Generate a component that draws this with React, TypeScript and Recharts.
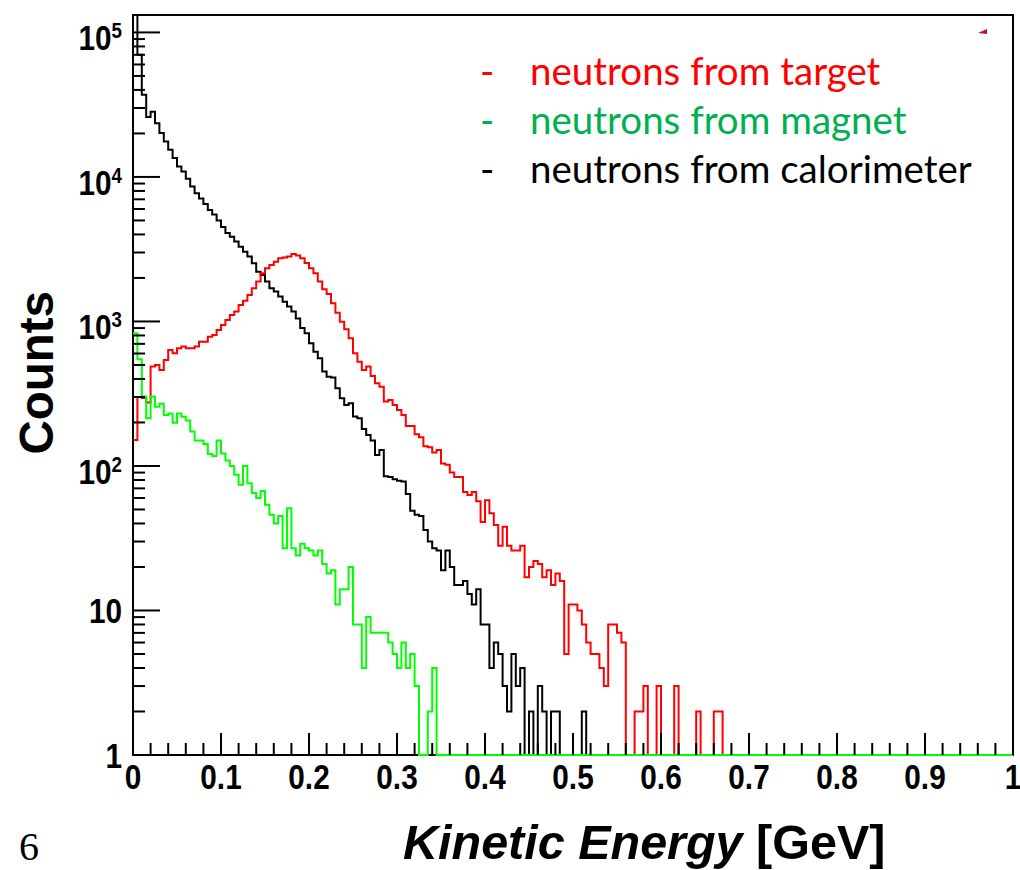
import React from 'react';
import { LineChart, Line, XAxis, YAxis, ReferenceArea, Legend } from 'recharts';

// bin contents, 0.005 GeV wide bins starting at 0 GeV; bins past the end of a list are empty
const targetCounts = [
  151, 300, 295, 275, 487, 500, 462, 542, 635, 603,
  652, 670, 652, 652, 670, 725, 725, 785, 807, 874,
  946, 1024, 1109, 1170, 1300, 1390, 1525, 1698, 1888, 2155,
  2333, 2460, 2594, 2735, 2765, 2810, 2934, 2855, 2735, 2540,
  2333, 2155, 1888, 1670, 1550, 1336, 1151, 997, 883, 765,
  602, 527, 462, 487, 420, 373, 354, 279, 286, 264,
  244, 225, 189, 189, 166, 158, 137, 135, 124, 129,
  104, 102, 90, 84, 84, 66, 63, 66, 57, 41,
  58, 47, 39, 28, 38, 28, 26, 26, 28, 17,
  20, 22, 21, 17, 19, 15, 18, 16, 5, 11,
  11, 10, 8, 6, 5, 5, 4, 3, 8, 8,
  7, 6, 0, 0, 2, 2, 3, 0, 0, 3,
  0, 0, 0, 3, 0, 0, 0, 0, 2, 0,
  0, 0, 2, 2,
];

const magnetCounts = [
  828, 547, 302, 214, 302, 257, 269, 225, 231, 199,
  231, 219, 206, 173, 150, 150, 142, 121, 117, 150,
  122, 109, 100, 87, 74, 100, 76, 65, 60, 67,
  54, 46, 40, 45, 27, 51, 27, 24, 29, 27,
  26, 24, 26, 21, 18, 19, 11, 14, 14, 20,
  8, 8, 4, 9, 7, 7, 7, 7, 6, 5,
  4, 6, 4, 5, 3, 0, 0, 2, 4,
];

const calorimeterCounts = [
  180000, 70000, 37000, 26000, 28300, 23500, 20100, 17600, 15400, 13500,
  11800, 10900, 9700, 8600, 7700, 7100, 6500, 5900, 5500, 5000,
  4500, 4100, 3860, 3570, 3290, 3040, 2810, 2530, 2210, 2100,
  1890, 1700, 1610, 1490, 1370, 1270, 1170, 1050, 900, 830,
  707, 618, 556, 450, 415, 410, 345, 294, 264, 272,
  220, 214, 180, 164, 150, 119, 129, 85, 84, 81,
  79, 78, 64, 49, 46, 45, 36, 30, 27, 26,
  19, 26, 20, 15, 15, 16, 13, 11, 14, 8,
  8, 4, 6, 5, 3, 2, 5, 3, 4, 0,
  2, 0, 3, 2, 0, 2, 2, 0, 0, 0,
  0, 0, 2,
];

const xTicks = [
  0, 0.02, 0.04, 0.06, 0.08, 0.1, 0.12, 0.14, 0.16, 0.18,
  0.2, 0.22, 0.24, 0.26, 0.28, 0.3, 0.32, 0.34, 0.36, 0.38,
  0.4, 0.42, 0.44, 0.46, 0.48, 0.5, 0.52, 0.54, 0.56, 0.58,
  0.6, 0.62, 0.64, 0.66, 0.68, 0.7, 0.72, 0.74, 0.76, 0.78,
  0.8, 0.82, 0.84, 0.86, 0.88, 0.9, 0.92, 0.94, 0.96, 0.98, 1,
];

const yTicks = [
  1, 2, 3, 4, 5, 6, 7, 8, 9,
  10, 20, 30, 40, 50, 60, 70, 80, 90,
  100, 200, 300, 400, 500, 600, 700, 800, 900,
  1000, 2000, 3000, 4000, 5000, 6000, 7000, 8000, 9000,
  10000, 20000, 30000, 40000, 50000, 60000, 70000, 80000, 90000,
  100000,
];

const series = [
  { key: 'calorimeter', name: 'neutrons from calorimeter', stroke: '#000000', text: '#000000', counts: calorimeterCounts },
  { key: 'target', name: 'neutrons from target', stroke: '#ff0000', text: '#ff0000', counts: targetCounts },
  { key: 'magnet', name: 'neutrons from magnet', stroke: '#00ff00', text: '#00b050', counts: magnetCounts },
];
const legendOrder = ['target', 'magnet', 'calorimeter'];

const BIN_WIDTH = 0.005;
const N_BINS = 200;
const Y_MIN = 1;
const Y_MAX = 132000;

// ROOT style: empty bins lie on the floor of the frame, overflow is cut at the roof
const shown = (c: number | undefined) => Math.min(Math.max(c ?? 0, Y_MIN), Y_MAX);

const rows = Array.from({ length: N_BINS + 1 }, (_, i) => {
  const bin = Math.min(i, N_BINS - 1);
  const row: Record<string, number> = { e: +(i * BIN_WIDTH).toFixed(3) };
  series.forEach((s) => {
    row[s.key] = shown(s.counts[bin]);
  });
  return row;
});

const AXIS_FONT = '"Liberation Sans", Arial, Helvetica, sans-serif';

const XTick = ({ x, y, payload }: any) => {
  const v = payload.value;
  const major = Math.abs(v * 10 - Math.round(v * 10)) < 1e-6;
  return (
    <g>
      <line x1={x} y1={y} x2={x} y2={y - (major ? 22 : 12)} stroke="#000" strokeWidth={2} />
      {major && (
        <text
          transform={`translate(${x},${y + 34}) scale(0.85,1)`}
          textAnchor="middle"
          fontFamily={AXIS_FONT}
          fontWeight="bold"
          fontSize={35}
          fill="#000"
        >
          {v === 0 ? '0' : v === 1 ? '1' : v.toFixed(1)}
        </text>
      )}
    </g>
  );
};

const YTick = ({ x, y, payload }: any) => {
  const v = payload.value;
  const exp = Math.round(Math.log10(v));
  const major = Math.abs(Math.log10(v) - exp) < 1e-9;
  return (
    <g>
      <line x1={x} y1={y} x2={x + (major ? 27 : 12)} y2={y} stroke="#000" strokeWidth={2} />
      {major && (
        <text
          transform={`translate(${x - 11},${y + (exp > 1 ? 18 : 13)}) scale(0.85,1)`}
          textAnchor="end"
          fontFamily={AXIS_FONT}
          fontWeight="bold"
          fontSize={35}
          fill="#000"
        >
          {exp > 1 ? (
            <>
              10
              <tspan fontSize={22} dy={-12}>{exp}</tspan>
            </>
          ) : (
            String(v)
          )}
        </text>
      )}
    </g>
  );
};

const XTitle = () => (
  <text x={403} y={859} fontFamily={AXIS_FONT} fontWeight="bold" fontSize={48.5} fill="#000">
    <tspan fontStyle="italic">Kinetic Energy</tspan> [GeV]
  </text>
);

const YTitle = () => (
  <text
    transform="translate(53,291) rotate(-90)"
    textAnchor="end"
    fontFamily={AXIS_FONT}
    fontWeight="bold"
    fontSize={47.5}
    fill="#000"
  >
    Counts
  </text>
);

const LegendBox = () => (
  <div style={{ position: 'relative', width: 520, height: 150, fontFamily: 'Lato, "Noto Sans", sans-serif', fontSize: 38.5 }}>
    {legendOrder.map((key, i) => {
      const s = series.find((d) => d.key === key)!;
      return (
        <div
          key={key}
          style={{ position: 'absolute', top: i * 49, left: 0, height: 49, lineHeight: '49px', color: s.text, whiteSpace: 'nowrap' }}
        >
          <span style={{ position: 'absolute', left: 10 }}>-</span>
          <span style={{ position: 'absolute', left: 60 }}>{s.name}</span>
        </div>
      );
    })}
  </div>
);

export default function App() {
  return (
    <div style={{ position: 'absolute', left: 0, top: 0, width: 1020, height: 870, background: '#fff' }}>
      <LineChart width={1020} height={870} data={rows} margin={{ top: 15, right: 7, bottom: 0, left: 0 }}>
        <XAxis
          dataKey="e"
          type="number"
          domain={[0, 1]}
          ticks={xTicks}
          interval={0}
          height={115}
          axisLine={false}
          tickLine={false}
          tickSize={0}
          tickMargin={0}
          tick={<XTick />}
          label={{ content: () => <XTitle /> }}
        />
        <YAxis
          type="number"
          scale="log"
          domain={[Y_MIN, Y_MAX]}
          ticks={yTicks}
          interval={0}
          width={133}
          axisLine={false}
          tickLine={false}
          tickSize={0}
          tickMargin={0}
          tick={<YTick />}
          label={{ content: () => <YTitle /> }}
        />
        {series.map((s) => (
          <Line
            key={s.key}
            dataKey={s.key}
            name={s.name}
            type="stepAfter"
            stroke={s.stroke}
            strokeWidth={2}
            dot={false}
            activeDot={false}
            isAnimationActive={false}
          />
        ))}
        <ReferenceArea x1={0} x2={1} y1={Y_MIN} y2={Y_MAX} fill="none" stroke="#000" strokeWidth={2} ifOverflow="visible" />
        <Legend
          layout="horizontal"
          verticalAlign="middle"
          align="center"
          content={() => <LegendBox />}
          wrapperStyle={{ left: 470, top: 46, width: 520, height: 150 }}
        />
      </LineChart>
      <svg width={1020} height={870} style={{ position: 'absolute', left: 0, top: 0, pointerEvents: 'none' }}>
        <polygon points="978,33 987,29 987,34" fill="#c0102a" />
        <text x={19} y={860} fontFamily='"Liberation Serif", "Times New Roman", serif' fontSize={40} fill="#000">
          6
        </text>
      </svg>
    </div>
  );
}
